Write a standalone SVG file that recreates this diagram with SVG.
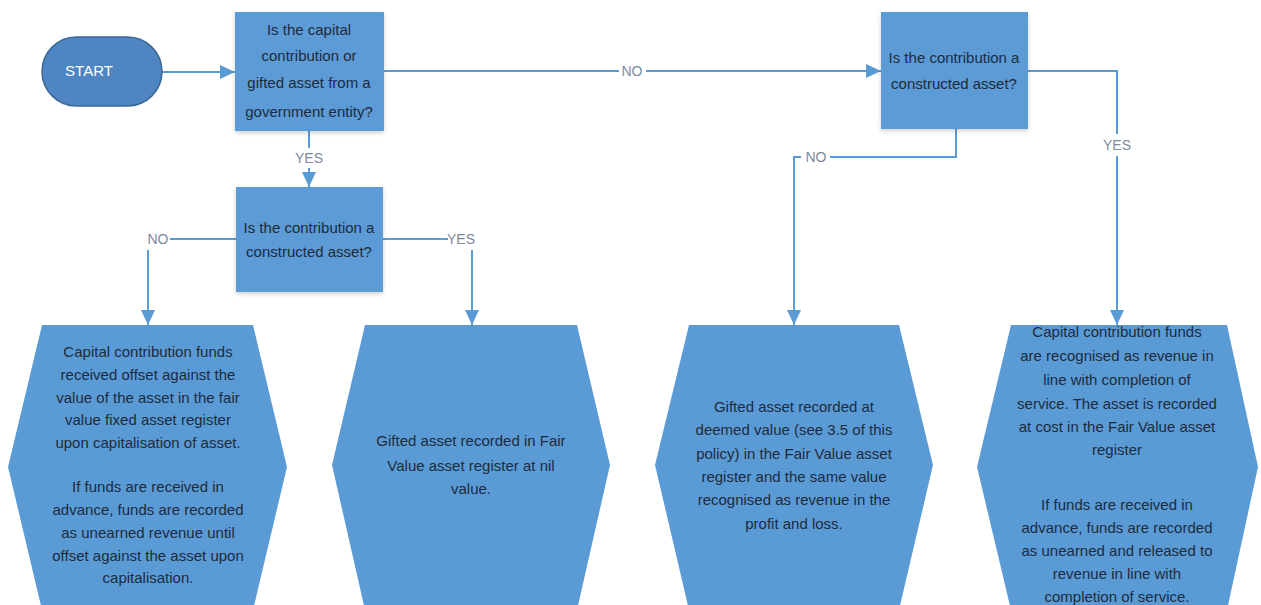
<svg xmlns="http://www.w3.org/2000/svg" width="1261" height="605" viewBox="0 0 1261 605">
  <defs>
    <marker id="arrow" markerUnits="userSpaceOnUse" markerWidth="16" markerHeight="16" viewBox="0 0 16 16" refX="15" refY="8" orient="auto">
      <path d="M0,1 L15,8 L0,15 Z" fill="#5b9bd5"/>
    </marker>
    <filter id="shadow" x="-10%" y="-10%" width="120%" height="125%">
      <feDropShadow dx="0" dy="2" stdDeviation="2" flood-color="#000" flood-opacity="0.18"/>
    </filter>
  </defs>
  <style>
    .start { fill: #4e85c2; stroke: #3b6896; stroke-width: 1.5; }
    .box { fill: #5b9bd5; filter: url(#shadow); }
    .hex { fill: #5b9bd5; }
    .conn { fill: none; stroke: #5b9bd5; stroke-width: 2; }
    .t { font-family: "Liberation Sans", Arial, sans-serif; font-size: 15px; fill: #1c2b40; text-anchor: middle; dominant-baseline: middle; }
    .lbl { font-family: "Liberation Sans", Arial, sans-serif; font-size: 14px; fill: #7a8a9e; text-anchor: middle; dominant-baseline: middle; }
    .st { font-family: "Liberation Sans", Arial, sans-serif; font-size: 15px; fill: #ffffff; text-anchor: middle; dominant-baseline: middle; }
  </style>
  <rect width="1261" height="605" fill="#ffffff"/>

  <!-- connectors -->
  <g id="connectors">
    <path class="conn" d="M162,72 H235" marker-end="url(#arrow)"/>
    <path class="conn" d="M384,71 H619"/>
    <path class="conn" d="M646,71 H881" marker-end="url(#arrow)"/>
    <path class="conn" d="M309,131 V148"/>
    <path class="conn" d="M309,168 V187" marker-end="url(#arrow)"/>
    <path class="conn" d="M236,239 H170"/>
    <path class="conn" d="M148,250 V325" marker-end="url(#arrow)"/>
    <path class="conn" d="M383,239 H448"/>
    <path class="conn" d="M472,250 V325" marker-end="url(#arrow)"/>
    <path class="conn" d="M956,129 V157 H830"/>
    <path class="conn" d="M801,157 H794 V325" marker-end="url(#arrow)"/>
    <path class="conn" d="M1028,71 H1117 V134"/>
    <path class="conn" d="M1117,156 V325" marker-end="url(#arrow)"/>
    <text class="lbl" x="632" y="72">NO</text>
    <text class="lbl" x="309" y="159">YES</text>
    <text class="lbl" x="158" y="240">NO</text>
    <text class="lbl" x="461" y="240">YES</text>
    <text class="lbl" x="816" y="158">NO</text>
    <text class="lbl" x="1117" y="146">YES</text>
  </g>

  <!-- start terminal -->
  <g id="start">
    <rect class="start" x="42" y="37" width="120" height="69" rx="34.5"/>
    <text class="st" x="89" y="72">START</text>
  </g>

  <!-- decision: government entity -->
  <g id="q-government">
    <rect class="box" x="235" y="12" width="149" height="119"/>
    <text class="t" x="309" y="31">Is the capital</text>
    <text class="t" x="309" y="57">contribution or</text>
    <text class="t" x="309" y="84">gifted asset from a</text>
    <text class="t" x="309" y="113">government entity?</text>
  </g>

  <!-- decision: constructed asset (government) -->
  <g id="q-constructed-gov">
    <rect class="box" x="236" y="187" width="147" height="105"/>
    <text class="t" x="309" y="229">Is the contribution a</text>
    <text class="t" x="309" y="253">constructed asset?</text>
  </g>

  <!-- decision: constructed asset (non-government) -->
  <g id="q-constructed-other">
    <rect class="box" x="881" y="12" width="147" height="117"/>
    <text class="t" x="954" y="59">Is the contribution a</text>
    <text class="t" x="954" y="85">constructed asset?</text>
  </g>

  <!-- outcome: government, not constructed -->
  <g id="out-gov-no">
    <polygon class="hex" points="42,325 253,325 287,467 253,610 42,610 8,467"/>
    <text class="t" x="148" y="353">Capital contribution funds</text>
    <text class="t" x="148" y="376">received offset against the</text>
    <text class="t" x="148" y="399">value of the asset in the fair</text>
    <text class="t" x="148" y="421">value fixed asset register</text>
    <text class="t" x="148" y="444">upon capitalisation of asset.</text>
    <text class="t" x="148" y="488">If funds are received in</text>
    <text class="t" x="148" y="511">advance, funds are recorded</text>
    <text class="t" x="148" y="534">as unearned revenue until</text>
    <text class="t" x="148" y="557">offset against the asset upon</text>
    <text class="t" x="148" y="579">capitalisation.</text>
  </g>

  <!-- outcome: government, constructed -->
  <g id="out-gov-yes">
    <polygon class="hex" points="365,325 577,325 610,465 577,610 365,610 332,465"/>
    <text class="t" x="471" y="442">Gifted asset recorded in Fair</text>
    <text class="t" x="471" y="467">Value asset register at nil</text>
    <text class="t" x="471" y="490">value.</text>
  </g>

  <!-- outcome: non-government, not constructed -->
  <g id="out-other-no">
    <polygon class="hex" points="689,325 899,325 933,465 899,610 689,610 655,465"/>
    <text class="t" x="794" y="408">Gifted asset recorded at</text>
    <text class="t" x="794" y="431">deemed value (see 3.5 of this</text>
    <text class="t" x="794" y="455">policy) in the Fair Value asset</text>
    <text class="t" x="794" y="478">register and the same value</text>
    <text class="t" x="794" y="501">recognised as revenue in the</text>
    <text class="t" x="794" y="525">profit and loss.</text>
  </g>

  <!-- outcome: non-government, constructed -->
  <g id="out-other-yes">
    <polygon class="hex" points="1011,325 1227,325 1258,467 1227,610 1011,610 977,467"/>
    <text class="t" x="1117" y="333">Capital contribution funds</text>
    <text class="t" x="1117" y="357">are recognised as revenue in</text>
    <text class="t" x="1117" y="381">line with completion of</text>
    <text class="t" x="1117" y="405">service. The asset is recorded</text>
    <text class="t" x="1117" y="428">at cost in the Fair Value asset</text>
    <text class="t" x="1117" y="451">register</text>
    <text class="t" x="1117" y="506">If funds are received in</text>
    <text class="t" x="1117" y="529">advance, funds are recorded</text>
    <text class="t" x="1117" y="552">as unearned and released to</text>
    <text class="t" x="1117" y="575">revenue in line with</text>
    <text class="t" x="1117" y="598">completion of service.</text>
  </g>
</svg>
